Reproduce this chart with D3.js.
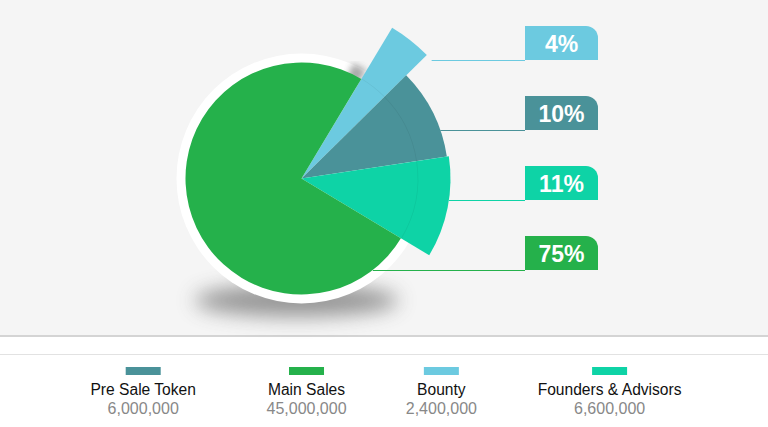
<!DOCTYPE html>
<html>
<head>
<meta charset="utf-8">
<script src="https://cdn.jsdelivr.net/npm/d3@7"></script>
<style>
  html, body { margin: 0; padding: 0; background: #fff; }
  #container { width: 768px; height: 427px; }
</style>
</head>
<body>
<div id="container"></div>
<script>
// data
let categories = ['Pre Sale Token', 'Main Sales', 'Bounty', 'Founders & Advisors'];
let amounts = [6000000, 45000000, 2400000, 6600000];
let colors = ['#4a9299', '#25b14b', '#6ccae0', '#0ed3a6'];
// order slices are laid clockwise, and order of the % boxes top to bottom
let sliceOrder = ['Bounty', 'Pre Sale Token', 'Founders & Advisors', 'Main Sales'];

let width = 768;
let height = 427;
let cx = 301.5, cy = 178.5;
let outer = { 'Main Sales': 116, 'Bounty': 176, 'Pre Sale Token': 147, 'Founders & Advisors': 149 };

let svg = d3.create('svg').attr('width', width).attr('height', height);
let defs = svg.append('defs');
defs.append('filter').attr('id', 'blur').attr('x', '-50%').attr('y', '-100%').attr('width', '200%').attr('height', '300%')
  .append('feGaussianBlur').attr('stdDeviation', 10);
defs.append('filter').attr('id', 'blur2')
  .append('feGaussianBlur').attr('stdDeviation', 3);

// backgrounds
svg.append('rect').attr('width', width).attr('height', 336).attr('fill', '#f5f5f5');
svg.append('rect').attr('y', 336).attr('width', width).attr('height', height - 336).attr('fill', '#fff');
svg.append('rect').attr('y', 335).attr('width', width).attr('height', 2).attr('fill', '#d4d4d4');
svg.append('rect').attr('y', 354).attr('width', width).attr('height', 1).attr('fill', '#e2e2e2');

let total = d3.sum(amounts);
let rows = sliceOrder.map(name => {
  let i = categories.indexOf(name);
  return { name: name, value: amounts[i], color: colors[i] };
});

let pie = d3.pie().sort(null).value(d => d.value)
  .startAngle(31 * Math.PI / 180).endAngle(31 * Math.PI / 180 + 2 * Math.PI);
let arcs = pie(rows);

let g = svg.append('g').attr('transform', `translate(${cx},${cy})`);

// shadow under the pie
g.append('ellipse').attr('cx', -5).attr('cy', 122).attr('rx', 102).attr('ry', 16)
  .attr('fill', '#555').attr('opacity', 0.6).attr('filter', 'url(#blur)');
// white ring
g.append('circle').attr('r', 125).attr('fill', '#fff');

// percent boxes and leader lines
let yRow = d3.scalePoint().domain(sliceOrder).range([60, 270]);
let boxX = 525, boxW = 73, boxH = 34, rr = 12;
let boxPath = (x, y) => `M${x},${y} H${x + boxW - rr} A${rr},${rr} 0 0 1 ${x + boxW},${y + rr} V${y + boxH} H${x} Z`;

rows.forEach(d => {
  let yb = yRow(d.name);
  let dy = yb - cy;
  let r = outer[d.name];
  let x0 = cx + Math.sqrt(Math.max(r * r - dy * dy, 0));
  svg.append('line')
    .attr('x1', x0).attr('x2', boxX)
    .attr('y1', yb + 0.5).attr('y2', yb + 0.5)
    .attr('stroke', d.color).attr('stroke-width', 1.2);
  svg.append('path').attr('d', boxPath(boxX, yb - boxH)).attr('fill', d.color);
  svg.append('text')
    .attr('x', boxX + boxW / 2).attr('y', yb - 8)
    .attr('text-anchor', 'middle')
    .attr('font-family', 'Liberation Sans, Arial, sans-serif')
    .attr('font-weight', 'bold').attr('font-size', '23px')
    .attr('fill', '#fff')
    .text(Math.round(d.value / total * 100) + '%');
});

// shadow cast by the bounty slice on the ring
let bountyArc = arcs.find(a => a.data.name === 'Bounty');
g.append('path')
  .attr('d', d3.arc().innerRadius(110).outerRadius(126)
    .startAngle(bountyArc.startAngle - 0.12).endAngle(bountyArc.startAngle)())
  .attr('fill', '#444').attr('opacity', 0.45).attr('filter', 'url(#blur2)');

// slices
g.selectAll('.slice')
  .data(arcs)
  .enter()
  .append('path')
  .attr('class', 'slice')
  .attr('d', d => d3.arc().innerRadius(0).outerRadius(outer[d.data.name])(d))
  .attr('fill', d => d.data.color);

// faint crease where the long slices leave the base circle
g.selectAll('.crease')
  .data(arcs.filter(d => d.data.name !== 'Main Sales'))
  .enter()
  .append('path')
  .attr('d', d => d3.arc().innerRadius(116).outerRadius(116.8)(d))
  .attr('fill', '#000').attr('opacity', 0.06);

// legend
let legend = svg.append('g');
let items = categories.map((name, i) => {
  let item = legend.append('g');
  item.append('rect').attr('y', 367).attr('height', 8).attr('width', 35).attr('x', -17.5).attr('fill', colors[i]);
  let t = item.append('text').attr('y', 395).attr('text-anchor', 'middle')
    .attr('font-family', 'Liberation Sans, Arial, sans-serif').attr('font-size', '15.6px')
    .attr('fill', '#111').text(name);
  item.append('text').attr('y', 413.5).attr('text-anchor', 'middle')
    .attr('font-family', 'Liberation Sans, Arial, sans-serif').attr('font-size', '16px')
    .attr('fill', '#888').text(d3.format(',')(amounts[i]));
  return { item: item, text: t };
});

d3.select('#container').append(() => svg.node());

// lay legend items out by their label widths
let gap = 72;
let widths = items.map(d => d.text.node().getComputedTextLength());
let totalW = d3.sum(widths) + gap * (widths.length - 1);
let x = 386 - totalW / 2;
items.forEach((d, i) => {
  d.item.attr('transform', `translate(${x + widths[i] / 2},0)`);
  x += widths[i] + gap;
});
</script>
</body>
</html>
